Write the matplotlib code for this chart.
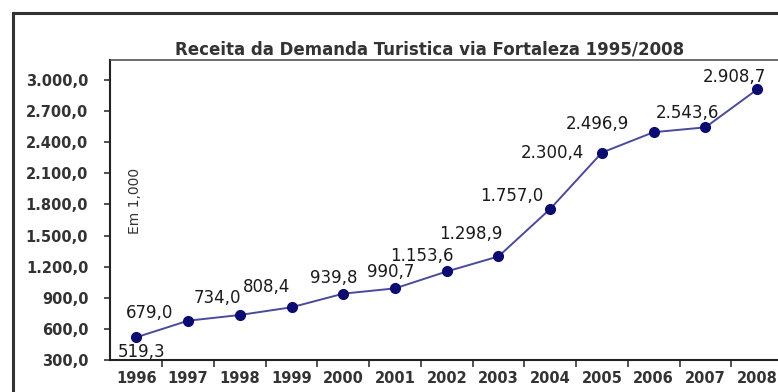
import matplotlib
matplotlib.use("Agg")
import matplotlib.pyplot as plt
from matplotlib.patches import Rectangle

# Receita da demanda turistica (em 1.000)
anos = ["1996", "1997", "1998", "1999", "2000", "2001", "2002",
        "2003", "2004", "2005", "2006", "2007", "2008"]
receita = [519.3, 679.0, 734.0, 808.4, 939.8, 990.7, 1153.6,
           1298.9, 1757.0, 2300.4, 2496.9, 2543.6, 2908.7]
rotulos = ["519,3", "679,0", "734,0", "808,4", "939,8", "990,7", "1.153,6",
           "1.298,9", "1.757,0", "2.300,4", "2.496,9", "2.543,6", "2.908,7"]
# label offsets in pixels (dx, dy) relative to each point
offsets = [(5, -15), (-39, 8), (-22, 17), (-25, 20), (-10, 16), (-4, 16), (-25, 15),
           (-28, 22), (-38, 13), (-50, 0), (-56, 8), (-18, 14), (-23, 12)]

yticks = list(range(300, 3001, 300))
ytick_labels = ["{:,.1f}".format(v).replace(",", "X").replace(".", ",").replace("X", ".")
                for v in yticks]

W, H = 778, 392
fig = plt.figure(figsize=(W / 100, H / 100), dpi=100)
fig.patch.set_facecolor("white")

# outer frame of the picture
fig.patches.append(Rectangle((13 / W, -0.1), 1.2, 1.1 - 13 / H, transform=fig.transFigure,
                             fill=False, edgecolor="#333333", linewidth=2.2))

left, right, bottom, top = 110.5, 783, 360, 60
ax = fig.add_axes([left / W, 1 - bottom / H, (right - left) / W, (bottom - top) / H])

x = list(range(len(anos)))
ax.plot(x, receita, color="#4a4a9a", linewidth=1.4, zorder=2)
ax.plot(x, receita, linestyle="none", marker="o", markersize=7,
        color="#0c0c70", zorder=3)

for xi, v, lab, (dx, dy) in zip(x, receita, rotulos, offsets):
    ax.annotate(lab, (xi, v), xytext=(dx, dy), textcoords="offset pixels",
                ha="center", va="center", fontsize=12, color="#1a1a1a")

ax.set_xlim(-0.5, len(anos) - 0.5)
ax.set_ylim(300, 3193)

ax.set_yticks(yticks)
ax.set_yticklabels(ytick_labels, fontsize=10.5, fontweight="bold", color="#333333")
ax.tick_params(axis="y", length=4, width=1.2, pad=12, color="#333333")

ax.set_xticks(x)
ax.set_xticklabels(anos, fontsize=10.5, fontweight="bold", color="#333333")
ax.set_xticks([i + 0.5 for i in x[:-1]], minor=True)
ax.tick_params(axis="x", which="major", length=0, pad=8)
ax.tick_params(axis="x", which="minor", length=5, width=1.2, color="#333333")

for side in ["left", "bottom"]:
    ax.spines[side].set_color("#222222")
    ax.spines[side].set_linewidth(1.5)
ax.spines["top"].set_color("#555555")
ax.spines["top"].set_linewidth(1.2)
ax.spines["right"].set_visible(False)

ax.text(0.036, 0.53, "Em 1,000", transform=ax.transAxes, rotation=90,
        ha="center", va="center", fontsize=10, color="#333333")

fig.text(430 / W, 1 - 50 / H, "Receita da Demanda Turistica via Fortaleza 1995/2008",
         ha="center", va="center", fontsize=12, fontweight="bold", color="#333333")

fig.savefig("out.png", dpi=100)
